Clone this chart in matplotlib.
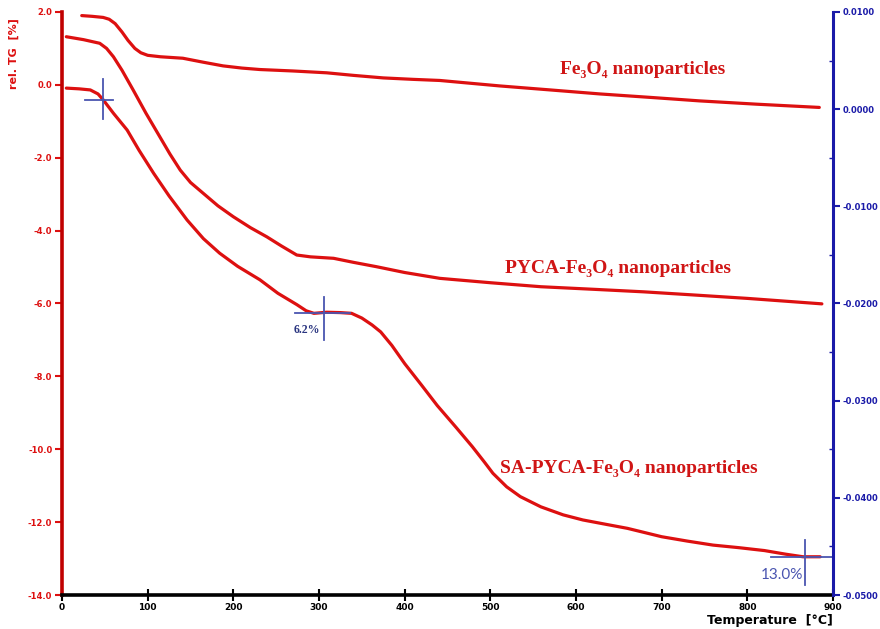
import matplotlib.pyplot as plt
from matplotlib.ticker import MultipleLocator

# temperatures (°C) and relative mass change (%)
fe3o4_t = [23, 35, 48, 55, 62, 70, 77, 85, 92, 100, 115, 141, 165, 188, 210, 231, 270,
           309, 340, 375, 410, 441, 511, 570, 628, 690, 744, 810, 884]
fe3o4_tg = [1.90, 1.88, 1.85, 1.80, 1.68, 1.45, 1.22, 1.00, 0.88, 0.81, 0.77, 0.73,
            0.62, 0.52, 0.46, 0.42, 0.38, 0.33, 0.26, 0.19, 0.15, 0.12, -0.03, -0.14,
            -0.25, -0.35, -0.44, -0.53, -0.62]

pyca_t = [5, 25, 44, 52, 60, 70, 83, 98, 114, 126, 138, 150, 165, 182, 200, 220, 239,
          256, 274, 290, 317, 340, 367, 400, 441, 500, 559, 620, 679, 740, 800, 887]
pyca_tg = [1.32, 1.24, 1.14, 1.00, 0.77, 0.40, -0.14, -0.78, -1.42, -1.90, -2.34,
           -2.68, -2.98, -3.32, -3.62, -3.92, -4.17, -4.42, -4.67, -4.72, -4.76, -4.87,
           -4.99, -5.15, -5.31, -5.43, -5.54, -5.61, -5.68, -5.77, -5.86, -6.01]

sa_t = [5, 20, 33, 42, 48, 60, 76, 90, 107, 125, 146, 165, 184, 205, 231, 252, 274,
        285, 294, 309, 325, 338, 350, 362, 372, 385, 400, 420, 438, 460, 479, 493, 503,
        519, 535, 559, 585, 608, 635, 660, 700, 730, 760, 790, 820, 845, 865, 885]
sa_tg = [-0.09, -0.11, -0.14, -0.25, -0.41, -0.78, -1.24, -1.80, -2.43, -3.05, -3.71,
         -4.22, -4.62, -4.98, -5.35, -5.72, -6.03, -6.20, -6.27, -6.24, -6.25, -6.27,
         -6.40, -6.59, -6.78, -7.15, -7.65, -8.25, -8.80, -9.40, -9.93, -10.35, -10.66,
         -11.03, -11.30, -11.58, -11.80, -11.94, -12.06, -12.17, -12.40, -12.52, -12.63,
         -12.70, -12.78, -12.88, -12.95, -12.95]

# crosshair markers: (T, TG, left, right in °C, up, down in %)
marks = [(48, -0.42, 21, 11, 0.58, 0.51),
         (306, -6.26, 34, 30, 0.45, 0.74),
         (867, -12.96, 39, 33, 0.47, 0.76)]

RED = '#dd1010'
BLUE = '#1a1aa8'
MARK = '#4a55b0'

fig = plt.figure(figsize=(8.8, 6.29), dpi=100)
ax = fig.add_axes([0.0705, 0.054, 0.8761, 0.927])

for t, v in [(fe3o4_t, fe3o4_tg), (pyca_t, pyca_tg), (sa_t, sa_tg)]:
    ax.plot(t, v, color=RED, lw=2.3, solid_capstyle='round', solid_joinstyle='round')

for t, v, wl, wr, up, dn in marks:
    ax.plot([t - wl, t + wr], [v, v], color=MARK, lw=1.3)
    ax.plot([t, t], [v + up, v - dn], color=MARK, lw=1.3)

ax.set_xlim(0, 900)
ax.set_ylim(-14, 2)
ax.set_xticks(range(0, 901, 100))
ax.set_yticks([2, 0, -2, -4, -6, -8, -10, -12, -14])
ax.set_yticklabels(['%.1f' % v for v in ax.get_yticks()])

ax.spines['top'].set_visible(False)
ax.spines['right'].set_visible(False)
ax.spines['left'].set_color('#c00000')
ax.spines['left'].set_linewidth(2.6)
ax.spines['bottom'].set_color('black')
ax.spines['bottom'].set_linewidth(2.6)

ax.tick_params(axis='y', colors=RED, labelsize=6, length=5, width=1.5, pad=2)
ax.tick_params(axis='x', colors='black', labelsize=6.5, direction='inout', length=9,
               width=1.5, pad=1)
for lab in ax.get_yticklabels() + ax.get_xticklabels():
    lab.set_fontweight('bold')

fig.text(0.016, 0.915, 'rel. TG  [%]', rotation=90, color=RED, fontsize=8,
         fontweight='bold', ha='center', va='center')
fig.text(0.946, 0.014, 'Temperature  [°C]', color='black', fontsize=9,
         fontweight='bold', ha='right', va='center')

ax2 = ax.twinx()
ax2.set_ylim(-0.05, 0.01)
ax2.set_yticks([0.01, 0.0, -0.01, -0.02, -0.03, -0.04, -0.05])
ax2.set_yticklabels(['%.4f' % v for v in ax2.get_yticks()])
ax2.yaxis.set_minor_locator(MultipleLocator(0.005))
for s in ['top', 'left', 'bottom']:
    ax2.spines[s].set_visible(False)
ax2.spines['right'].set_color(BLUE)
ax2.spines['right'].set_linewidth(2.2)
ax2.tick_params(axis='y', which='major', colors=BLUE, labelsize=6, length=5,
                width=1.5, pad=2)
ax2.tick_params(axis='y', which='minor', colors=BLUE, direction='in', length=3, width=1)
for lab in ax2.get_yticklabels():
    lab.set_fontweight('bold')

serif = ['Liberation Serif', 'DejaVu Serif']
ax.text(581, 0.41, 'Fe₃O₄ nanoparticles', color='#d01515', fontsize=14,
        fontweight='bold', family=serif, ha='left', va='center')
ax.text(517, -5.03, 'PYCA-Fe₃O₄ nanoparticles', color='#d01515', fontsize=14,
        fontweight='bold', family=serif, ha='left', va='center')
ax.text(511, -10.54, 'SA-PYCA-Fe₃O₄ nanoparticles', color='#d01515', fontsize=14,
        fontweight='bold', family=serif, ha='left', va='center')

ax.text(301, -6.73, '6.2%', color='#2a3580', fontsize=8.5, fontweight='bold',
        family=serif, ha='right', va='center')
ax.text(865, -13.45, '13.0%', color=MARK, fontsize=11, family=['Lato', 'DejaVu Sans'],
        ha='right', va='center')

fig.savefig('out.png', dpi=100)
